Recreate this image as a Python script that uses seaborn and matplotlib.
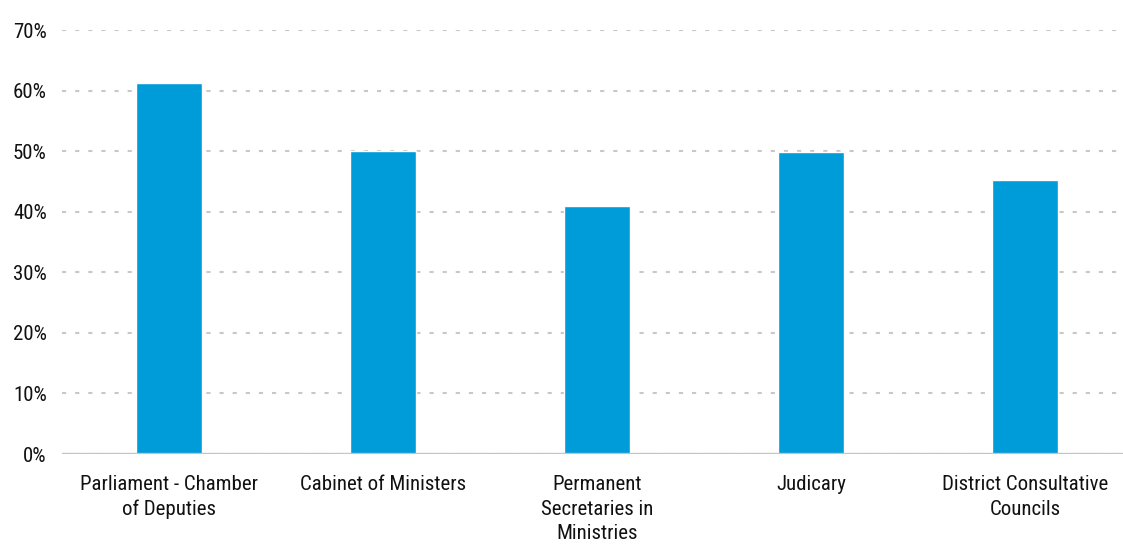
import matplotlib
matplotlib.use("Agg")
import matplotlib.pyplot as plt
import seaborn as sns
import pandas as pd
from matplotlib.ticker import FuncFormatter, MultipleLocator
from matplotlib import font_manager as fm

categories = ["Parliament - Chamber\nof Deputies", "Cabinet of Ministers",
              "Permanent\nSecretaries in\nMinistries", "Judicary",
              "District Consultative\nCouncils"]
values = [61.3, 50.0, 41.0, 49.8, 45.2]

df = pd.DataFrame({"cat": categories, "val": values})

sns.set_theme(style="white")
names = {f.name for f in fm.fontManager.ttflist}
fam = [n for n in ["Liberation Sans Narrow", "Roboto Condensed", "DejaVu Sans"] if n in names]
plt.rcParams["font.family"] = fam
plt.rcParams["font.stretch"] = "condensed"

W, H = 1123, 544
fig = plt.figure(figsize=(W / 100, H / 100), dpi=100)
ax = fig.add_axes([62 / W, 90 / H, (1132 - 62) / W, 424 / H])

sns.barplot(data=df, x="cat", y="val", color="#009cd9", width=0.313,
            saturation=1, ax=ax, zorder=3)

ax.set_xlim(-0.5, 4.5)
ax.set_ylim(0, 70)
ax.yaxis.set_major_locator(MultipleLocator(10))
ax.yaxis.set_major_formatter(FuncFormatter(lambda v, p: f"{v:.0f}%"))
ax.set_xlabel("")
ax.set_ylabel("")

for s in ax.spines.values():
    s.set_visible(False)

ax.grid(axis="y", color="#c8c8c8", linewidth=1.5, linestyle=(0, (2.0, 4.3)), zorder=0)
ax.grid(axis="x", visible=False)
ax.axhline(0, color="#c4c4c4", linewidth=2.4, zorder=4)

ax.tick_params(axis="both", length=0, labelsize=15, colors="#111111")
ax.tick_params(axis="x", pad=15)
ax.tick_params(axis="y", pad=11)
for lbl in ax.get_xticklabels():
    lbl.set_linespacing(1.38)

fig.savefig("out.png", dpi=100)
